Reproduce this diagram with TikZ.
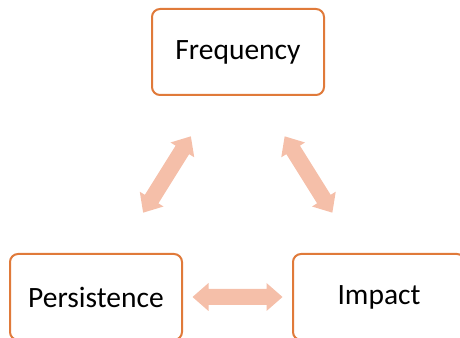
\documentclass[tikz,border=0pt]{standalone}
\usepackage{fontspec}
\setmainfont{Carlito}
\usetikzlibrary{calc}
\definecolor{boxline}{HTML}{E07A3A}
\definecolor{arrowfill}{HTML}{F5BFA9}
\begin{document}
\begin{tikzpicture}[x=1pt,y=1pt,
  box/.style={draw=boxline, line width=2pt, rounded corners=8pt, fill=white,
    minimum width=172pt, minimum height=86pt, inner sep=0pt,
    font=\fontsize{29.5}{34}\selectfont},
  dblarr/.pic={\fill[arrowfill] (-45,0) -- (-29,14) -- (-29,8) -- (29,8) -- (29,14)
     -- (45,0) -- (29,-14) -- (29,-8) -- (-29,-8) -- (-29,-14) -- cycle;}]
\useasboundingbox (0,0) rectangle (460,337);
\clip (0,0) rectangle (460,337);
\node[box] (freq) at (238,285) {Frequency};
\node[box] (pers) at (96,40) {Persistence};
\node[box] (imp) at (379,40) {Impact};
\pic[rotate=58] at (167,162.5) {dblarr};
\pic[rotate=-58] at (308.5,162.5) {dblarr};
\pic at ($(pers.east)!0.5!(imp.west)$) {dblarr};
\end{tikzpicture}
\end{document}
